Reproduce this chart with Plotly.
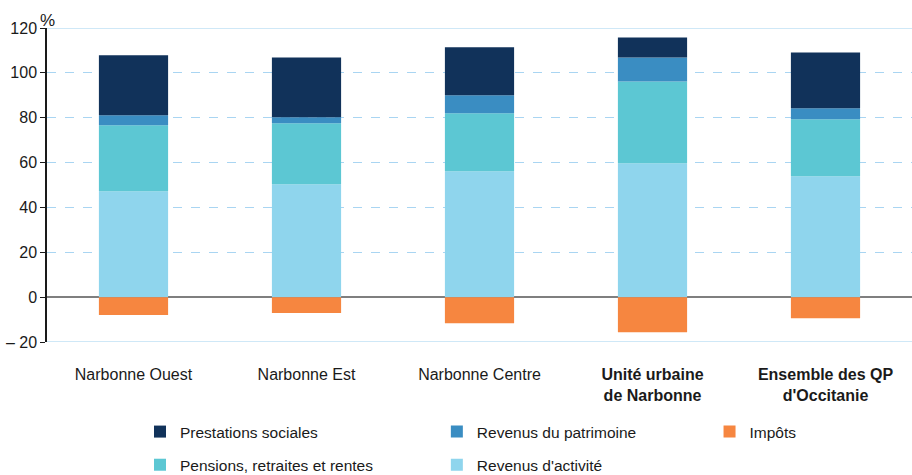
import plotly.graph_objects as go

categories = ["Narbonne Ouest", "Narbonne Est", "Narbonne Centre",
              "Unité urbaine<br>de Narbonne", "Ensemble des QP<br>d'Occitanie"]
tick_labels = ["Narbonne Ouest", "Narbonne Est", "Narbonne Centre",
               "<b>Unité urbaine</b><br><b>de Narbonne</b>",
               "<b>Ensemble des QP</b><br><b>d'Occitanie</b>"]

revenus_activite = [47.2, 50.3, 56.1, 59.7, 53.9]
pensions = [29.4, 27.2, 25.9, 36.5, 25.4]
patrimoine = [4.5, 2.7, 8.0, 10.7, 4.9]
prestations = [26.7, 26.7, 21.4, 8.9, 24.9]
impots = [-8.0, -7.1, -11.6, -15.6, -9.4]

y_ticks = [-20, 0, 20, 40, 60, 80, 100, 120]
y_tick_labels = ["– 20", "0", "20", "40", "60", "80", "100", "120"]

FONT = "Liberation Sans, Arial, sans-serif"

fig = go.Figure()
series = [
    ("Revenus d'activité", revenus_activite, "#8FD5ED", "legend2"),
    ("Pensions, retraites et rentes", pensions, "#5CC7D3", "legend"),
    ("Revenus du patrimoine", patrimoine, "#3A8DC2", "legend2"),
    ("Prestations sociales", prestations, "#11325A", "legend"),
    ("Impôts", impots, "#F68640", "legend3"),
]
ranks = {"Prestations sociales": 1, "Pensions, retraites et rentes": 2,
         "Revenus du patrimoine": 1, "Revenus d'activité": 2, "Impôts": 1}
for name, vals, color, lg in series:
    fig.add_trace(go.Bar(
        name=name, x=categories, y=vals, marker_color=color,
        marker_line_width=0, width=0.4, legend=lg,
        legendrank=ranks[name], legendgroup=name,
    ))

legend_common = dict(orientation="v", yanchor="top", xanchor="left",
                     xref="container", yref="container",
                     font=dict(family=FONT, size=15.5, color="#1a1a1a"),
                     tracegroupgap=10, itemwidth=30, bgcolor="rgba(0,0,0,0)",
                     traceorder="grouped")
fig.update_layout(
    width=912, height=475,
    margin=dict(l=47, r=0, t=28, b=133, autoexpand=False),
    plot_bgcolor="white", paper_bgcolor="white",
    barmode="relative",
    font=dict(family=FONT, size=15, color="#1a1a1a"),
    legend=dict(x=0.1535, y=0.1263, **legend_common),
    legend2=dict(x=0.4790, y=0.1263, **legend_common),
    legend3=dict(x=0.7780, y=0.1263, **legend_common),
    xaxis=dict(
        tickmode="array", tickvals=categories, ticktext=tick_labels,
        showline=False, ticks="", showgrid=False,
        tickfont=dict(family=FONT, size=16, color="#1a1a1a"),
        ticklabelstandoff=21,
    ),
    yaxis=dict(
        range=[-20, 120], tickmode="array", tickvals=y_ticks,
        ticktext=y_tick_labels, ticks="outside", ticklen=5,
        tickcolor="#1a1a1a", showline=True, linecolor="#1a1a1a",
        linewidth=1.5, showgrid=True, gridcolor="#A9D5F2", griddash="dash",
        gridwidth=1, zeroline=True, zerolinecolor="#7F7F7F",
        zerolinewidth=2,
        tickfont=dict(family=FONT, size=16, color="#1a1a1a"),
    ),
    showlegend=True,
)
for yv in (120, -20):
    fig.add_shape(type="line", xref="paper", yref="y", x0=0, x1=1,
                  y0=yv, y1=yv, line=dict(color="#BFE0F5", width=1.5))
fig.add_annotation(text="%", xref="paper", yref="paper", x=0, y=1,
                   xanchor="center", yanchor="bottom", showarrow=False,
                   font=dict(family=FONT, size=17, color="#1a1a1a"),
                   yshift=-4)

fig.write_html("out.html",
               config={"displayModeBar": False},
               post_script="document.body.style.margin='0px';"
                           "document.body.style.overflow='hidden';")
